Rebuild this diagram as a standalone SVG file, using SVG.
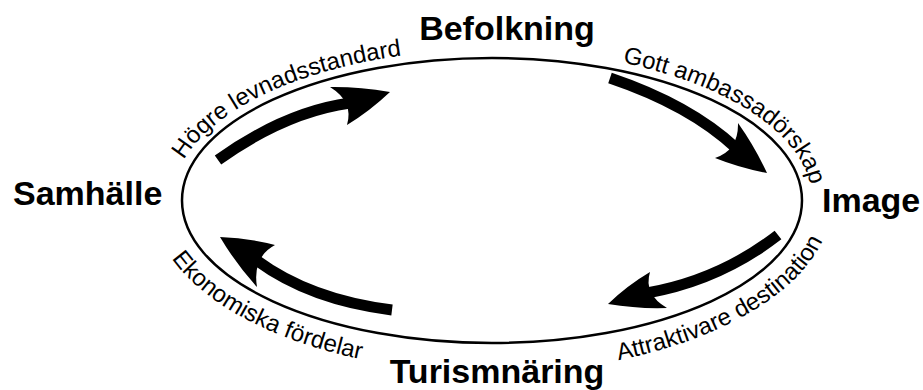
<svg xmlns="http://www.w3.org/2000/svg" width="923" height="390" viewBox="0 0 923 390">
<style>
.node{font-family:"Liberation Sans",Arial,sans-serif;font-weight:bold;font-size:34px;fill:#000}
.lbl{font-family:"Liberation Sans",Arial,sans-serif;font-size:24px;fill:#000}
.shaft{fill:none;stroke:#000;stroke-width:11}
.head{fill:#000;stroke:none}
</style>
<defs>
<path id="topPath" d="M172,200.5 A320,151 0 0 1 812,200.5"/>
<path id="botPath" d="M152,200.5 A340,172 0 0 0 832,200.5"/>
</defs>
<rect width="923" height="390" fill="#fff"/>
<g id="cycle">
<ellipse cx="492" cy="200.5" rx="310" ry="142.5" fill="none" stroke="#000" stroke-width="2.5"/>
</g>
<g id="node-befolkning"><text class="node" x="507" y="40" text-anchor="middle">Befolkning</text></g>
<g id="node-image"><text class="node" x="822" y="212">Image</text></g>
<g id="node-turismnaring"><text class="node" x="497" y="383" text-anchor="middle">Turismnäring</text></g>
<g id="node-samhalle"><text class="node" x="13" y="205">Samhälle</text></g>
<g id="connectors">
<g id="arrow-1">
<path class="shaft" d="M218,160 Q285,112 350,103"/>
<path class="head" d="M390,92 Q359,86.6 330,87 Q353.9,101.8 347,125 Q369.7,111.2 390,92 Z"/>
<text class="lbl"><textPath href="#topPath" startOffset="43">Högre levnadsstandard</textPath></text>
</g>
<g id="arrow-2">
<path class="shaft" d="M610,78 Q690,105 736,148"/>
<path class="head" d="M767,173 Q755,147 738,123 Q738.7,150.3 715,158 Q740,168 767,173 Z"/>
<text class="lbl"><textPath href="#topPath" startOffset="513">Gott ambassadörskap</textPath></text>
</g>
<g id="arrow-3">
<path class="shaft" d="M778,235 Q720,280 647,293"/>
<path class="head" d="M608,304 Q627,285.6 650,272 Q643.3,294.2 667,308 Q637.5,309 608,304 Z"/>
<text class="lbl"><textPath href="#botPath" startOffset="540">Attraktivare destination</textPath></text>
</g>
<g id="arrow-4">
<path class="shaft" d="M392,310 Q310,300 256,260"/>
<path class="head" d="M220,237 Q248,238 275,245 Q252.2,257.3 257,287 Q236,264 220,237 Z"/>
<text class="lbl"><textPath href="#botPath" startOffset="62">Ekonomiska fördelar</textPath></text>
</g>
</g>
</svg>
